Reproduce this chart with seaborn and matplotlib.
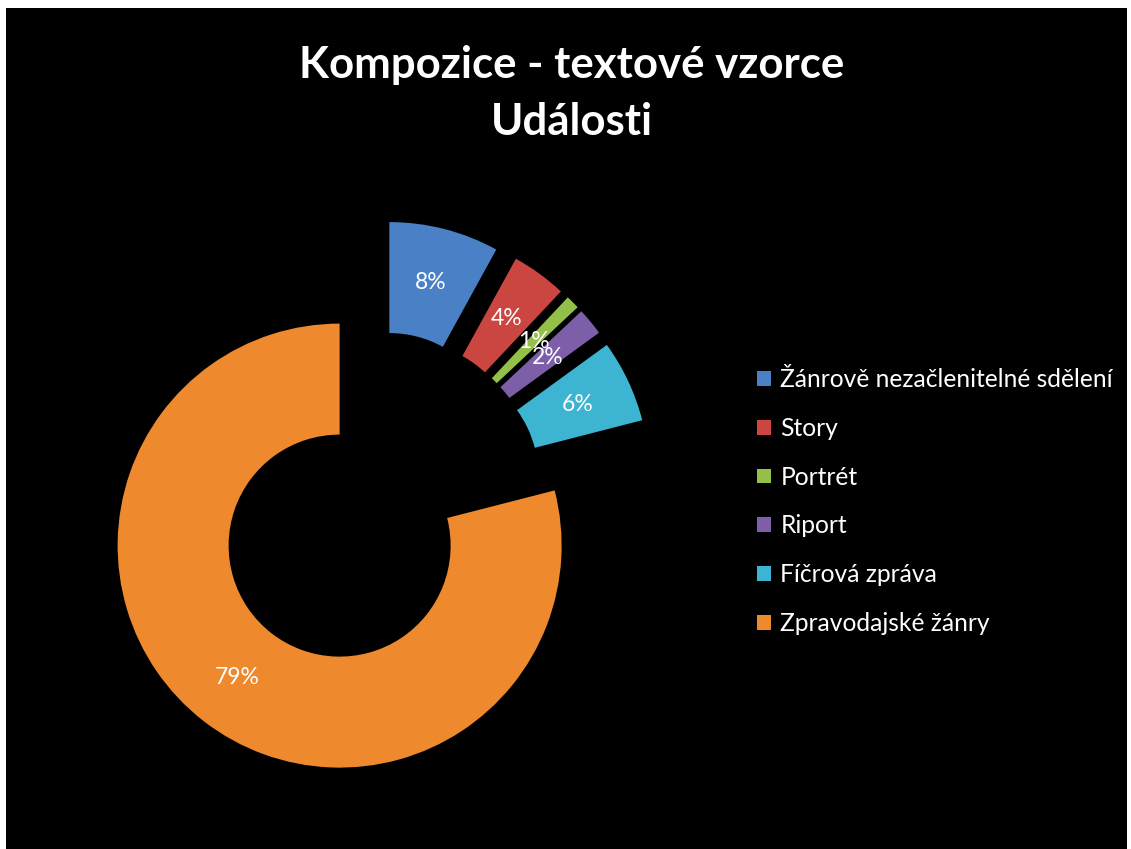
import matplotlib
matplotlib.use("Agg")
import matplotlib.pyplot as plt
import matplotlib.patches as mpatches
import seaborn as sns

# data
categories = [
    "Žánrově nezačlenitelné sdělení",
    "Story",
    "Portrét",
    "Riport",
    "Fíčrová zpráva",
    "Zpravodajské žánry",
]
shares = [8, 4, 1, 2, 6, 79]
title_line1 = "Kompozice - textové vzorce"
title_line2 = "Události"

colors = sns.color_palette(["#4a80c6", "#cb4541", "#94bf48", "#7d5fa9",
                            "#3db4d2", "#ee892e"])

sns.set_theme(style="dark")
plt.rcParams["font.family"] = ["Lato", "DejaVu Sans"]

W, H = 1131, 849
fig = plt.figure(figsize=(W / 100, H / 100), dpi=100, facecolor="white")

# black chart area (thin white margin on top / sides)
bg = mpatches.Rectangle((6 / W, 0), (1127 - 6) / W, (H - 8) / H,
                        transform=fig.transFigure, facecolor="black",
                        edgecolor="none", zorder=-10)
fig.patches.append(bg)

# axes: 666 px square centred on the pie centre (375, 500)
cx, cy, half = 375, 500, 333
ax = fig.add_axes([(cx - half) / W, (H - cy - half) / H, 2 * half / W, 2 * half / H])
ax.set_zorder(1)
ax.set_facecolor("none")

wedges, texts, autotexts = ax.pie(
    shares,
    colors=colors,
    startangle=90,
    counterclock=False,
    explode=[0.26] * len(shares),
    radius=1.0,
    wedgeprops=dict(width=0.5, linewidth=0),
    autopct="%1.0f%%",
    pctdistance=0.75,
    textprops=dict(color="white", fontsize=16.5),
)
ax.set_xlim(-1.5, 1.5)
ax.set_ylim(-1.5, 1.5)
ax.set_aspect("auto")
ax.axis("off")

# title
fig.text(572 / W, 1 - 78 / H, title_line1, ha="center", va="baseline",
         color="white", fontsize=31.5, fontweight="bold")
fig.text(572 / W, 1 - 135 / H, title_line2, ha="center", va="baseline",
         color="white", fontsize=31.5, fontweight="bold")

# legend
handles = [mpatches.Patch(facecolor=c, edgecolor="none") for c in colors]
fig.legend(handles, categories, loc="upper left",
           bbox_to_anchor=(757 / W, 1 - 368 / H),
           frameon=False, fontsize=17.7, labelcolor="white",
           handlelength=0.55, handleheight=0.55, handletextpad=0.4,
           labelspacing=1.05, borderpad=0, borderaxespad=0)

fig.savefig("out.png", dpi=100, facecolor=fig.get_facecolor())
